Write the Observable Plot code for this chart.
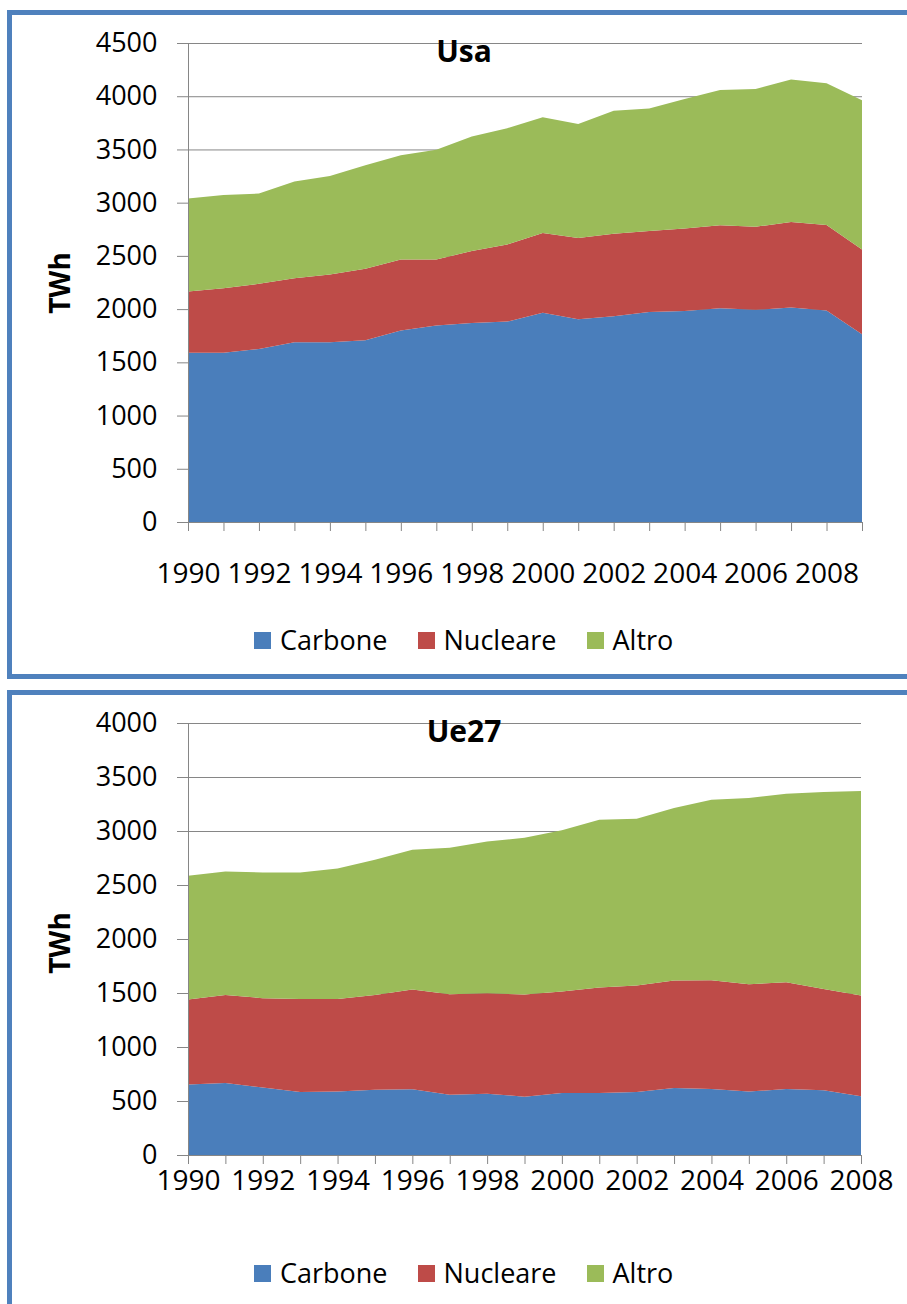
<!DOCTYPE html>
<html>
<head>
<meta charset="utf-8">
<script src="https://cdn.jsdelivr.net/npm/d3@7"></script>
<script src="https://cdn.jsdelivr.net/npm/@observablehq/plot@0.6"></script>
<style>
  html, body { margin: 0; padding: 0; background: #fff; }
  body { width: 907px; height: 1304px; overflow: hidden; position: relative; font-family: "Open Sans", sans-serif; }
  .panel { position: absolute; left: 7px; width: 1000px; border: 5px solid #4f81bd; box-sizing: border-box; }
  .chart { position: absolute; left: 0; }
  .title { position: absolute; left: 364px; width: 200px; text-align: center; font-weight: 700; font-size: 30px; line-height: 30px; color: #000; }
  .ylab { position: absolute; font-weight: 700; font-size: 28px; line-height: 28px; color: #000; transform: translate(-50%, -50%) rotate(-90deg); white-space: nowrap; }
  .legend { position: absolute; left: 254px; display: flex; align-items: center; font-size: 27px; line-height: 30px; color: #000; }
  .legend .item { display: flex; align-items: center; margin-right: 30px; }
  .legend .sw { width: 17px; height: 17px; margin-right: 9px; }
</style>
</head>
<body>
<div class="panel" style="top:10px;height:669px;"></div>
<div class="panel" style="top:690px;height:700px;"></div>
<div id="c1" class="chart" style="top:0px;"></div>
<div id="c2" class="chart" style="top:680px;"></div>
<script>
// ---- Data ----
const seriesNames = ["Carbone", "Nucleare", "Altro"];
const seriesColors = ["#4a7ebb", "#be4b48", "#9bbb59"];

// USA (TWh)
const usaTitle = "Usa";
const usaYears = [1990,1991,1992,1993,1994,1995,1996,1997,1998,1999,2000,2001,2002,2003,2004,2005,2006,2007,2008,2009];
const usaCarbone  = [1591,1591,1626,1688,1688,1707,1798,1845,1870,1883,1965,1905,1933,1974,1983,2008,1993,2015,1986,1763];
const usaNucleare = [ 574, 606, 612, 603, 637, 672, 669, 622, 675, 725, 749, 762, 775, 759, 775, 779, 781, 803, 804, 798];
const usaAltro    = [ 873, 875, 847, 907, 926, 973, 979,1029,1077,1092,1089,1071,1155,1152,1217,1271,1293,1340,1333,1402];
const usaYTicks = [0,500,1000,1500,2000,2500,3000,3500,4000,4500];

// UE27 (TWh)
const ueTitle = "Ue27";
const ueYears = [1990,1991,1992,1993,1994,1995,1996,1997,1998,1999,2000,2001,2002,2003,2004,2005,2006,2007,2008];
const ueCarbone  = [652,667,624,584,587,605,609,559,568,540,574,574,584,621,611,587,611,599,544];
const ueNucleare = [787,815,828,861,858,877,923,930,930,945,939,976,985,994,1007,994,989,939,932];
const ueAltro    = [1146,1143,1164,1171,1208,1251,1294,1355,1405,1452,1495,1554,1544,1597,1671,1724,1745,1822,1894];
const ueYTicks = [0,500,1000,1500,2000,2500,3000,3500,4000];

const yLabel = "TWh";
const grid = "#868686";

function longData(years, cols) {
  const out = [];
  seriesNames.forEach((s, i) => {
    years.forEach((yr, j) => out.push({year: yr, series: s, value: cols[i][j]}));
  });
  return out;
}

function makeChart({years, cols, yTicks, height, marginTop, marginBottom, marginRight, xPad}) {
  const data = longData(years, cols);
  return Plot.plot({
    width: 907,
    height,
    marginLeft: 188,
    marginRight,
    marginTop,
    marginBottom,
    style: {fontFamily: "Open Sans, sans-serif", fontSize: "27px", color: "#000", background: "transparent"},
    x: {type: "linear", domain: [years[0], years[years.length - 1]]},
    y: {domain: [0, yTicks[yTicks.length - 1]]},
    color: {domain: seriesNames, range: seriesColors},
    marks: [
      Plot.gridY(yTicks, {stroke: grid, strokeOpacity: 1, strokeWidth: 1}),
      Plot.areaY(data, {x: "year", y: "value", fill: "series", order: seriesNames}),
      Plot.ruleX([years[0]], {stroke: grid, strokeWidth: 1}),
      Plot.ruleY([0], {stroke: grid, strokeWidth: 1}),
      Plot.axisY(yTicks, {tickSize: 11, tickPadding: 20, stroke: grid, fill: "#000", fontSize: 27, label: null, tickFormat: d => String(d)}),
      Plot.axisX(years, {tickSize: 9, tickPadding: xPad, stroke: grid, fill: "#000", fontSize: 28, label: null, tickFormat: d => (d % 2 === 0 ? String(d) : "")})
    ]
  });
}

document.getElementById("c1").appendChild(makeChart({
  years: usaYears, cols: [usaCarbone, usaNucleare, usaAltro], yTicks: usaYTicks,
  height: 600, marginTop: 43, marginBottom: 78, marginRight: 45, xPad: 32
}));
document.getElementById("c2").appendChild(makeChart({
  years: ueYears, cols: [ueCarbone, ueNucleare, ueAltro], yTicks: ueYTicks,
  height: 545, marginTop: 43, marginBottom: 70, marginRight: 46, xPad: 6
}));

// Titles, y labels, legends
function addDiv(cls, text, style) {
  const d = document.createElement("div");
  d.className = cls;
  if (text != null) d.textContent = text;
  Object.assign(d.style, style);
  document.body.appendChild(d);
  return d;
}
addDiv("title", usaTitle, {top: "36px"});
addDiv("title", ueTitle, {top: "716px"});
addDiv("ylab", yLabel, {left: "59px", top: "283px"});
addDiv("ylab", yLabel, {left: "59px", top: "943px"});

function addLegend(top) {
  const lg = addDiv("legend", null, {top: top + "px"});
  seriesNames.forEach((s, i) => {
    const it = document.createElement("div");
    it.className = "item";
    const sw = document.createElement("div");
    sw.className = "sw";
    sw.style.background = seriesColors[i];
    const tx = document.createElement("span");
    tx.textContent = s;
    it.appendChild(sw);
    it.appendChild(tx);
    lg.appendChild(it);
  });
}
addLegend(625);
addLegend(1258);
</script>
</body>
</html>
